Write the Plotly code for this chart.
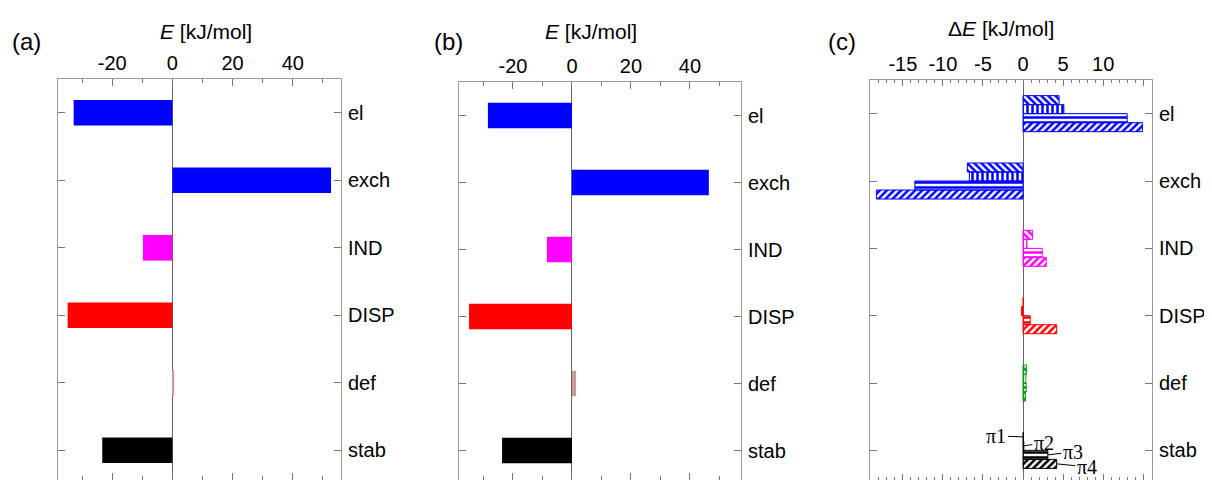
import plotly.graph_objects as go

# ---------------- data ----------------
categories = ["el", "exch", "IND", "DISP", "def", "stab"]

colors_ab = ["#0000FF", "#0000FF", "#FF00FF", "#FF0000", "#CC9999", "#000000"]
energy_a = [-32.8, 52.7, -9.8, -34.8, 0.6, -23.3]
energy_b = [-28.5, 46.4, -8.5, -34.9, 1.4, -23.7]

colors_c = ["#0000FF", "#0000FF", "#FF00FF", "#FF0000", "#009900", "#000000"]
pi_names = ["π1", "π2", "π3", "π4"]
pi_patterns = ["\\", "|", "-", "/"]
delta_pi1 = [4.5, -6.95, 1.2, 0.05, 0.45, 0.05]
delta_pi2 = [5.1, -6.7, 0.5, -0.2, 0.35, 0.1]
delta_pi3 = [13.0, -13.5, 2.4, 0.9, 0.4, 3.1]
delta_pi4 = [14.9, -18.3, 2.9, 4.2, 0.3, 4.2]
delta_all = [delta_pi1, delta_pi2, delta_pi3, delta_pi4]

ticks_ab = [-20, 0, 20, 40]
ticktext_ab = ["-20", "0", "20", "40"]
ticks_c = [-15, -10, -5, 0, 5, 10, 15]
ticktext_c = ["-15", "-10", "-5", "0", "5", "10", ""]

# ---------------- figure ----------------
# the page body has an 8px margin, so the figure is sized to fill the rest of the window
OFF = 8
W, H = 1212 - OFF, 480 - OFF
FONT = "Arial, Liberation Sans, sans-serif"


def px(x):
    return (x - OFF) / W


def py(y):
    return 1 - (y - OFF) / H


fig = go.Figure()

fig.add_trace(go.Bar(orientation="h", y=categories, x=energy_a, width=0.38,
                     marker=dict(color=colors_ab, line=dict(width=0)),
                     xaxis="x", yaxis="y", showlegend=False))
fig.add_trace(go.Bar(orientation="h", y=categories, x=energy_b, width=0.38,
                     marker=dict(color=colors_ab, line=dict(width=0)),
                     xaxis="x2", yaxis="y2", showlegend=False))
for name, shape, vals in zip(pi_names, pi_patterns, delta_all):
    fig.add_trace(go.Bar(orientation="h", y=categories, x=vals, name=name,
                         marker=dict(color=colors_c,
                                     line=dict(color=colors_c, width=1),
                                     pattern=dict(shape=shape, size=5, solidity=0.5,
                                                  fillmode="replace")),
                         xaxis="x3", yaxis="y3", showlegend=False))


def xax(dom, rng, tickvals, ticktext, minor_dtick, major_len, minor_len, anchor):
    return dict(domain=dom, range=rng, side="top", anchor=anchor,
                tickmode="array", tickvals=tickvals, ticktext=ticktext,
                ticks="inside", ticklen=major_len, tickcolor="#777", tickwidth=1,
                minor=dict(ticks="inside", ticklen=minor_len, dtick=minor_dtick, tick0=0,
                           tickcolor="#777", showgrid=False),
                showline=True, linecolor="#999", linewidth=1, mirror="ticks",
                showgrid=False, zeroline=True, zerolinecolor="#666", zerolinewidth=1,
                tickfont=dict(family=FONT, size=20, color="black"),
                automargin=False, fixedrange=True)


def yax(top_px, anchor):
    return dict(domain=[0, py(top_px)], type="category",
                categoryorder="array", categoryarray=categories,
                range=[5.44, -0.5], side="right", anchor=anchor,
                ticks="inside", ticklen=7, tickcolor="#777", tickwidth=1,
                showline=True, linecolor="#999", linewidth=1, mirror="ticks",
                showgrid=False, zeroline=False, ticklabelstandoff=2,
                tickfont=dict(family=FONT, size=20, color="black"),
                automargin=False, fixedrange=True)


xa = xax([px(58), px(341)], [-38, 56], ticks_ab, ticktext_ab, 10, 7, 4, "y")
xb = xax([px(459), px(741)], [-38.3, 57.3], ticks_ab, ticktext_ab, 10, 7, 4, "y2")
xc = xax([px(870), px(1152)], [-19.1, 16.1], ticks_c, ticktext_c, 1, 6, 3, "y3")

annotations = []
for lbl, xp in [("(a)", 10), ("(b)", 432), ("(c)", 826)]:
    annotations.append(dict(text=lbl, x=px(xp), y=py(41), xref="paper", yref="paper",
                            xanchor="left", yanchor="middle", showarrow=False,
                            font=dict(family=FONT, size=24, color="black")))
for txt, xc_px, yc_px in [("<i>E</i> [kJ/mol]", 206, 32), ("<i>E</i> [kJ/mol]", 591, 32),
                          ("Δ<i>E</i> [kJ/mol]", 1001, 29)]:
    annotations.append(dict(text=txt, x=px(xc_px), y=py(yc_px), xref="paper", yref="paper",
                            xanchor="center", yanchor="middle", showarrow=False,
                            font=dict(family=FONT, size=21, color="black")))

# pi labels in panel (c), pointing at the stab bars
stab_idx = categories.index("stab")
group_offsets = [-0.2, -0.067, 0.067, 0.2]
label_offsets = [(-27, -1), (20, -3), (25, -3), (30, 3)]
for name, vals, off, (ax, ay) in zip(pi_names, delta_all, group_offsets, label_offsets):
    annotations.append(dict(text=name, x=vals[stab_idx], y=stab_idx + off,
                            xref="x3", yref="y3", ax=ax, ay=ay, axref="pixel", ayref="pixel",
                            showarrow=True, arrowhead=0, arrowwidth=1, arrowcolor="black",
                            standoff=0,
                            font=dict(family="Liberation Serif, Times New Roman, serif",
                                      size=20, color="black")))

fig.update_layout(
    template="none",
    width=W, height=H, autosize=False,
    margin=dict(l=0, r=0, t=0, b=0, pad=0),
    paper_bgcolor="white", plot_bgcolor="white",
    barmode="group", bargap=0.465, bargroupgap=0,
    xaxis=xa, xaxis2=xb, xaxis3=xc,
    yaxis=yax(79, "x"), yaxis2=yax(82, "x2"), yaxis3=yax(80, "x3"),
    annotations=annotations,
    showlegend=False,
)

fig.write_html("out.html")
